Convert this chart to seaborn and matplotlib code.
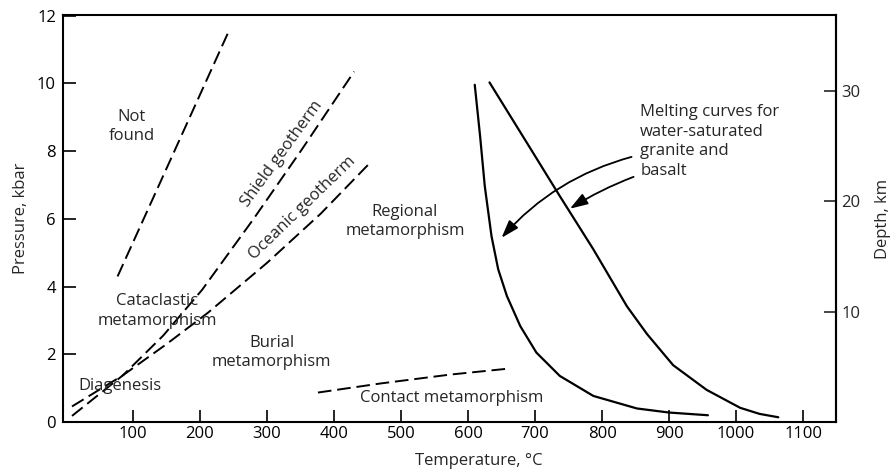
import matplotlib
matplotlib.use("Agg")
import matplotlib.pyplot as plt
import seaborn as sns

# ---- data ----
not_found_T = [77, 242]
not_found_P = [4.3, 11.5]

shield_T = [9, 85, 145, 203, 280, 352, 430]
shield_P = [0.18, 1.38, 2.55, 3.9, 6.0, 8.05, 10.35]

oceanic_T = [9, 85, 150, 212, 300, 380, 454]
oceanic_P = [0.46, 1.38, 2.3, 3.23, 4.7, 6.15, 7.66]

contact_T = [376, 470, 573, 662]
contact_P = [0.87, 1.14, 1.40, 1.58]

granite_T = [610, 614, 618, 625, 635, 645, 658, 678, 702, 737, 787, 852, 900, 958]
granite_P = [9.96, 9.2, 8.44, 6.96, 5.49, 4.51, 3.72, 2.83, 2.05, 1.36, 0.77, 0.40, 0.28, 0.20]

basalt_T = [632, 688, 737, 787, 837, 867, 906, 956, 1006, 1035, 1063]
basalt_P = [10.03, 8.24, 6.67, 5.1, 3.42, 2.6, 1.68, 0.95, 0.42, 0.24, 0.14]

x_ticks = [100, 200, 300, 400, 500, 600, 700, 800, 900, 1000, 1100]
y_ticks = [0, 2, 4, 6, 8, 10, 12]
depth_ticks = [10, 20, 30]
KM_PER_KBAR = 3.07

region_labels = ["Not\nfound", "Cataclastic\nmetamorphism", "Burial\nmetamorphism",
                 "Diagenesis", "Regional\nmetamorphism", "Contact metamorphism"]
region_T = [98, 136, 307, 81, 506, 575]
region_P = [8.72, 3.28, 2.05, 1.07, 5.93, 0.72]

# ---- style ----
sns.set_style("ticks")
plt.rcParams["font.family"] = ["Open Sans", "DejaVu Sans"]
plt.rcParams["font.size"] = 12

fig = plt.figure(figsize=(8.93, 4.72), dpi=100)
ax = fig.add_axes([0.0705, 0.1059, 0.8656, 0.8623])

dash = (0, (7, 3))
for T, P in [(not_found_T, not_found_P), (shield_T, shield_P),
             (oceanic_T, oceanic_P), (contact_T, contact_P)]:
    sns.lineplot(x=T, y=P, ax=ax, color="black", lw=1.4, linestyle=dash,
                 sort=False, estimator=None)
for T, P in [(granite_T, granite_P), (basalt_T, basalt_P)]:
    sns.lineplot(x=T, y=P, ax=ax, color="black", lw=1.6,
                 sort=False, estimator=None)

ax.set_xlim(-4.5, 1149)
ax.set_ylim(0, 12.02)
ax.set_xticks(x_ticks)
ax.set_yticks(y_ticks)
ax.tick_params(axis="both", direction="in", length=9, width=1.2,
               labelsize=12, colors="black")
ax.tick_params(axis="x", pad=3)
ax.tick_params(axis="y", pad=5)
for s in ax.spines.values():
    s.set_visible(True)
    s.set_linewidth(1.5)
    s.set_color("black")

ax.set_xlabel("Temperature, °C", fontsize=12, x=0.538, labelpad=8)
ax.set_ylabel("Pressure, kbar", fontsize=12, labelpad=6)

sec = ax.secondary_yaxis("right", functions=(lambda p: p * KM_PER_KBAR,
                                              lambda d: d / KM_PER_KBAR))
sec.set_yticks(depth_ticks)
sec.tick_params(direction="in", length=9, width=1.2, labelsize=12, pad=4)
sec.spines["right"].set_linewidth(1.5)
sec.set_ylabel("Depth, km", fontsize=12, labelpad=10)

for lab, t, p in zip(region_labels, region_T, region_P):
    ax.text(t, p, lab, ha="center", va="center", multialignment="center",
            fontsize=12, linespacing=1.27)

ax.text(323, 7.93, "Shield geotherm", rotation=54, rotation_mode="anchor",
        ha="center", va="center", fontsize=12)
ax.text(353, 6.33, "Oceanic geotherm", rotation=44, rotation_mode="anchor",
        ha="center", va="center", fontsize=12)

ax.text(857, 9.4, "Melting curves for\nwater-saturated\ngranite and\nbasalt",
        ha="left", va="top", fontsize=12, linespacing=1.32)

ax.annotate("", xy=(650, 5.44), xytext=(844, 7.83), xycoords="data",
            arrowprops=dict(arrowstyle="-|>,head_length=0.9,head_width=0.3",
                            connectionstyle="arc3,rad=0.15", color="black",
                            lw=1.3, mutation_scale=12, shrinkA=0, shrinkB=0))
ax.annotate("", xy=(752, 6.3), xytext=(847, 7.24), xycoords="data",
            arrowprops=dict(arrowstyle="-|>,head_length=0.9,head_width=0.3",
                            connectionstyle="arc3,rad=0.05", color="black",
                            lw=1.3, mutation_scale=12, shrinkA=0, shrinkB=0))

fig.savefig("out.png", dpi=100)
